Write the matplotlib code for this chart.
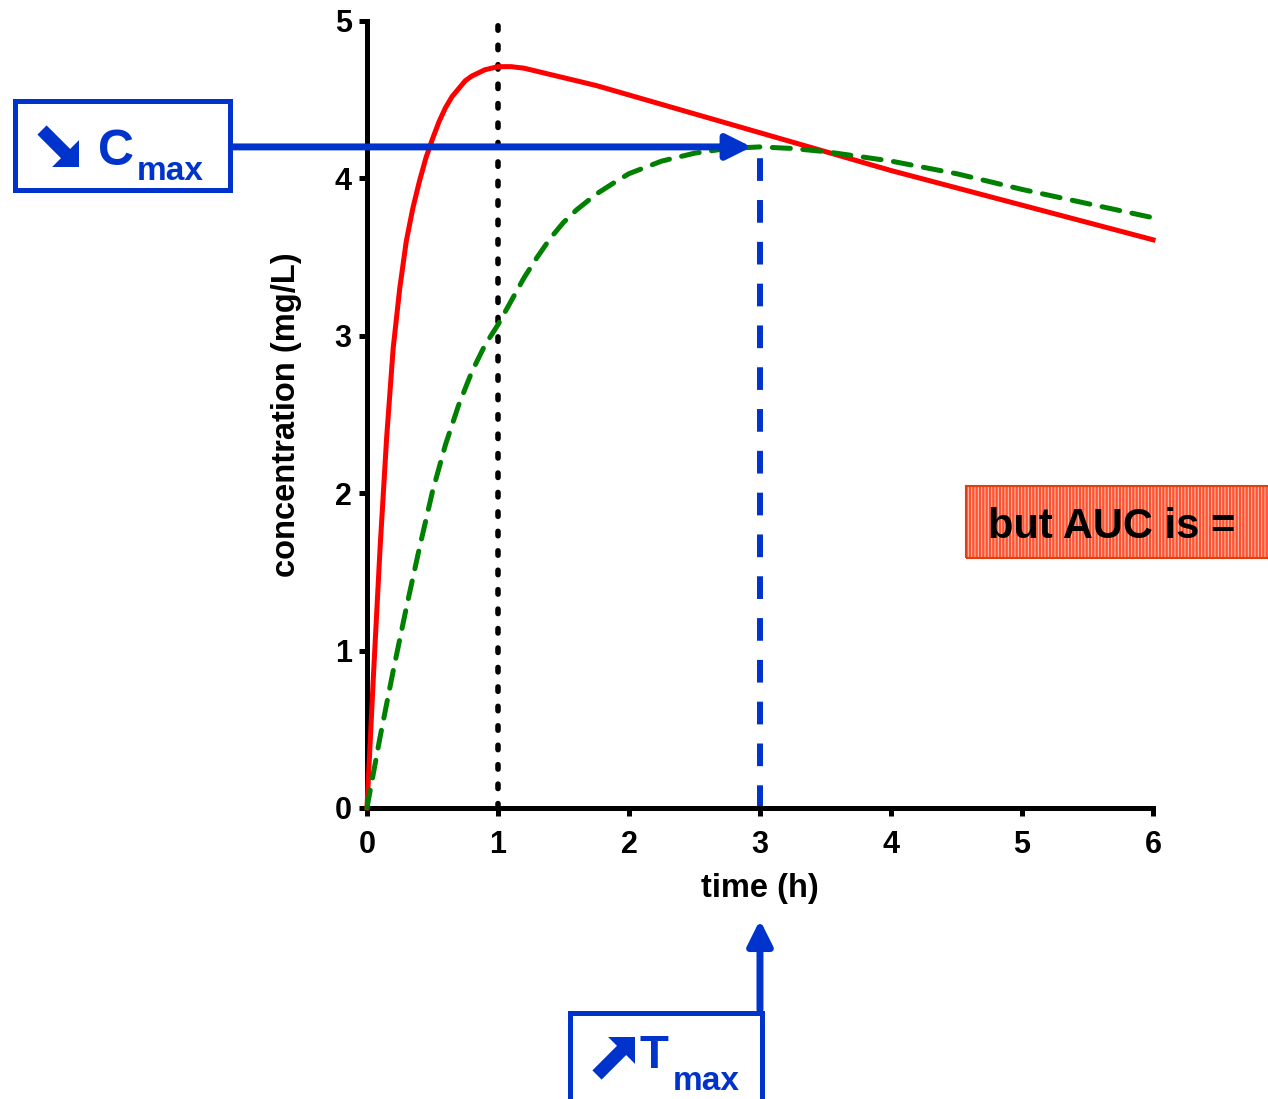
import matplotlib
matplotlib.use('Agg')
import matplotlib.pyplot as plt
from matplotlib.patches import Rectangle, FancyArrow

# concentration curves
t_fast = [0, 0.05, 0.1, 0.15, 0.2, 0.25, 0.3, 0.35, 0.4, 0.45, 0.5, 0.55, 0.6, 0.65, 0.7,
          0.75, 0.8, 0.85, 0.9, 0.95, 1.0, 1.05, 1.1, 1.2, 1.3, 1.4, 1.5, 1.75, 2.0, 2.5,
          3.0, 3.5, 4.0, 4.5, 5.0, 5.5, 6.0]
c_fast = [0, 0.85, 1.65, 2.35, 2.92, 3.3, 3.6, 3.81, 3.98, 4.13, 4.25, 4.36, 4.45, 4.52, 4.57,
          4.62, 4.65, 4.67, 4.69, 4.70, 4.71, 4.71, 4.71, 4.70, 4.68, 4.66, 4.64, 4.59, 4.53, 4.41,
          4.29, 4.17, 4.05, 3.94, 3.83, 3.72, 3.61]

t_slow = [0, 0.1, 0.2, 0.3, 0.4, 0.5, 0.6, 0.7, 0.8, 0.9, 1.0, 1.1, 1.2, 1.3, 1.4,
          1.5, 1.6, 1.75, 1.9, 2.0, 2.25, 2.5, 2.75, 3.0, 3.25, 3.5, 4.0, 4.5, 5.0, 5.5, 6.0]
c_slow = [0, 0.45, 0.87, 1.27, 1.65, 2.01, 2.31, 2.56, 2.77, 2.94, 3.07, 3.22, 3.37, 3.5, 3.62,
          3.72, 3.8, 3.9, 3.98, 4.03, 4.11, 4.16, 4.19, 4.2, 4.19, 4.17, 4.11, 4.03, 3.93, 3.84, 3.75]

t_ref = 1
t_max = 3
c_max = 4.2

x_ticks = [0, 1, 2, 3, 4, 5, 6]
y_ticks = [0, 1, 2, 3, 4, 5]

blue = '#0033cc'
FONT = 'Liberation Sans'
H = 10.99  # figure height in inches

fig = plt.figure(figsize=(12.68, H), dpi=100)
ax = fig.add_axes([0.2894, 0.2648, 0.6199, 0.7161])

ax.plot([t_ref, t_ref], [0, 5], color='black', lw=4, ls=(0, (0.8, 2.7)),
        dash_capstyle='round', clip_on=False, zorder=2)
ax.plot([t_max, t_max], [0, c_max], color=blue, lw=4.3, ls=(0, (3.8, 3.2)),
        dash_capstyle='butt', clip_on=False, zorder=2)
ax.plot(t_fast, c_fast, color='red', lw=3.6, clip_on=False, zorder=3)
ax.plot(t_slow, c_slow, color='green', lw=3.6, ls=(0, (3.6, 2.5)),
        dash_capstyle='round', clip_on=False, zorder=3)

ax.set_xlim(0, 6)
ax.set_ylim(0, 5)
ax.set_xticks(x_ticks)
ax.set_yticks(y_ticks)
for s in ['top', 'right']:
    ax.spines[s].set_visible(False)
for s in ['left', 'bottom']:
    ax.spines[s].set_linewidth(3.6)
ax.tick_params(width=3.6, length=6, direction='out')
ax.tick_params(axis='x', pad=10)
ax.tick_params(axis='y', pad=5)
for lab in ax.get_xticklabels() + ax.get_yticklabels():
    lab.set_fontfamily(FONT)
    lab.set_fontweight('bold')
    lab.set_fontsize(22)

ax.set_xlabel('time (h)', fontfamily=FONT, fontweight='bold', fontsize=23.5)
ax.set_ylabel('concentration (mg/L)', fontfamily=FONT, fontweight='bold', fontsize=23.5)
ax.xaxis.set_label_coords(0.5, -0.083)
ax.yaxis.set_label_coords(-0.083, 0.5)


def heavy_arrow(x0, y0, x1, y1):
    # pixel positions (from the top-left) -> inches from the bottom-left
    fig.add_artist(FancyArrow(x0 / 100, H - y0 / 100, (x1 - x0) / 100, -(y1 - y0) / 100,
                              width=0.13, head_width=0.38, head_length=0.19,
                              length_includes_head=True, transform=fig.dpi_scale_trans,
                              color=blue, lw=0))


# Cmax box and arrow
fig.add_artist(Rectangle((0.01144, 0.8267), 0.1696, 0.0810, transform=fig.transFigure,
                         facecolor='white', edgecolor=blue, lw=3.6))
heavy_arrow(42, 130, 79, 167)
fig.text(0.0773, 0.8499, 'C', family=FONT, fontweight='bold', fontsize=36, color=blue,
         ha='left', va='baseline')
fig.text(0.108, 0.8362, 'max', family=FONT, fontweight='bold', fontsize=24, color=blue,
         ha='left', va='baseline')
ax.annotate('', xy=(t_max, c_max), xycoords='data',
            xytext=(0.1814, c_max), textcoords=('figure fraction', 'data'),
            arrowprops=dict(arrowstyle='-|>,head_length=15,head_width=7.5', mutation_scale=1,
                            lw=5, color=blue, shrinkA=0, shrinkB=6), annotation_clip=False)

# Tmax box and arrow
fig.add_artist(Rectangle((0.4499, -0.01), 0.1514, 0.0887, transform=fig.transFigure,
                         facecolor='white', edgecolor=blue, lw=3.6))
heavy_arrow(597, 1075, 635, 1037)
fig.text(0.5047, 0.0282, 'T', family=FONT, fontweight='bold', fontsize=34, color=blue,
         ha='left', va='baseline')
fig.text(0.5308, 0.0082, 'max', family=FONT, fontweight='bold', fontsize=24, color=blue,
         ha='left', va='baseline')
ax.annotate('', xy=(t_max, 0.1629), xycoords=('data', 'figure fraction'),
            xytext=(t_max, 0.081), textcoords=('data', 'figure fraction'),
            arrowprops=dict(arrowstyle='-|>,head_length=15,head_width=7.5', mutation_scale=1,
                            lw=5, color=blue, shrinkA=0, shrinkB=0), annotation_clip=False)

# "but AUC is =" striped box
plt.rcParams['hatch.linewidth'] = 0.7
fig.add_artist(Rectangle((0.7618, 0.4923), 0.3, 0.0655, transform=fig.transFigure,
                         facecolor='#ff5230', edgecolor='none', lw=0))
fig.add_artist(Rectangle((0.7618, 0.4923), 0.3, 0.0655, transform=fig.transFigure,
                         facecolor='none', edgecolor='#ffc8b8', hatch='|||||', lw=0))
fig.add_artist(Rectangle((0.7618, 0.4923), 0.3, 0.0655, transform=fig.transFigure,
                         facecolor='none', edgecolor='#e04010', lw=1.5))
fig.text(0.7792, 0.5105, 'but AUC is =', family=FONT, fontweight='bold', fontsize=30,
         color='black', ha='left', va='baseline')

fig.savefig('out.png', dpi=100)
